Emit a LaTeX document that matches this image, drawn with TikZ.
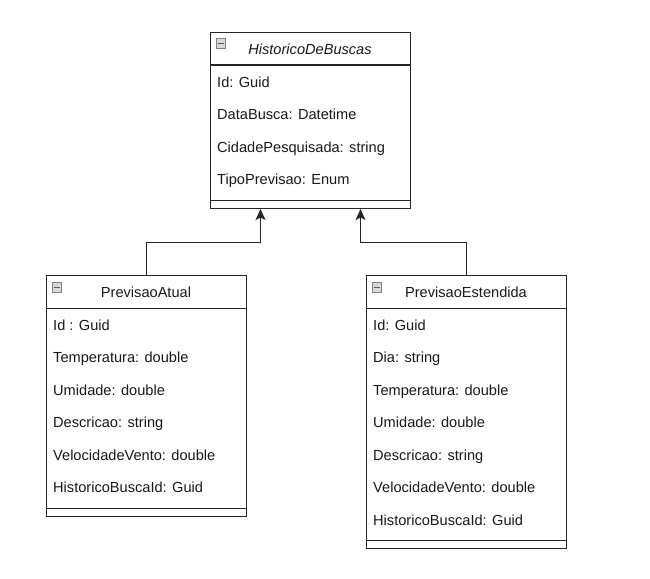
\documentclass[tikz,border=0pt]{standalone}
\usepackage{fontspec}
\setmainfont{Liberation Sans}
\usetikzlibrary{arrows.meta}
\begin{document}
\begin{tikzpicture}[x=1pt,y=-1pt,
  box/.style={draw=black!85,line width=1pt,fill=white,anchor=north west,minimum width=200pt,inner sep=0pt},
  sep/.style={draw=black!85,line width=1pt},
  attr/.style={anchor=base west,inner sep=0pt,font=\fontsize{14.6}{17}\selectfont,text=black!90},
  head/.style={anchor=base,inner sep=0pt,font=\fontsize{14.6}{17}\selectfont,text=black!90},
  icon/.style={draw=black!50,fill=black!15,line width=0.6pt,minimum size=9.5pt,inner sep=0pt},
  arr/.style={draw=black!85,line width=1pt,-{Stealth[length=11pt,width=10pt,inset=2.5pt]}}]
\useasboundingbox (0,0) rectangle (650,578);
% Boxes
\node[box,minimum height=176pt] (hb) at (210,32) {};
\node[box,minimum height=241pt] (pa) at (46,275) {};
\node[box,minimum height=273pt] (pe) at (366,275) {};
% separators
\draw[sep] (hb.west |- 0,65) -- (hb.east |- 0,65);
\draw[sep] (hb.west |- 0,200) -- (hb.east |- 0,200);
\draw[sep] (pa.west |- 0,308) -- (pa.east |- 0,308);
\draw[sep] (pa.west |- 0,508) -- (pa.east |- 0,508);
\draw[sep] (pe.west |- 0,308) -- (pe.east |- 0,308);
\draw[sep] (pe.west |- 0,540) -- (pe.east |- 0,540);
% icons
\foreach \n/\x/\y in {i1/221/43.5, i2/57/287.5, i3/377/287.5}{
  \node[icon] (\n) at (\x,\y) {};
  \draw[black!65,line width=1.3pt] ([xshift=1.6pt]\n.west) -- ([xshift=-1.6pt]\n.east);
}
% headers
\node[head,font=\fontsize{14.6}{17}\selectfont\itshape] (hbt) at (310,54.5) {HistoricoDeBuscas};
\node[head] (pat) at (146,297.5) {PrevisaoAtual};
\node[head] (pet) at (466,297.5) {PrevisaoEstendida};
% attributes top
\node[attr] (h1) at (217,87.3) {Id: Guid};
\node[attr] (h2) at (217,119.8) {DataBusca: Datetime};
\node[attr] (h3) at (217,152.3) {CidadePesquisada: string};
\node[attr] (h4) at (217,184.8) {TipoPrevisao: Enum};
% attributes left
\node[attr] (a1) at (53,330) {Id : Guid};
\node[attr] (a2) at (53,362.5) {Temperatura: double};
\node[attr] (a3) at (53,395) {Umidade: double};
\node[attr] (a4) at (53,427.5) {Descricao: string};
\node[attr] (a5) at (53,460) {VelocidadeVento: double};
\node[attr] (a6) at (53,492.5) {HistoricoBuscaId: Guid};
% attributes right
\node[attr] (b1) at (373,330) {Id: Guid};
\node[attr] (b2) at (373,362.5) {Dia: string};
\node[attr] (b3) at (373,395) {Temperatura: double};
\node[attr] (b4) at (373,427.5) {Umidade: double};
\node[attr] (b5) at (373,460) {Descricao: string};
\node[attr] (b6) at (373,492.5) {VelocidadeVento: double};
\node[attr] (b7) at (373,525) {HistoricoBuscaId: Guid};
% connectors
\coordinate (t1) at ([xshift=-50pt]hb.south);
\coordinate (t2) at ([xshift=50pt]hb.south);
\draw[arr] (pa.north) -- (pa.north |- 0,242) -| (t1);
\draw[arr] (pe.north) -- (pe.north |- 0,242) -| (t2);
\end{tikzpicture}
\end{document}
